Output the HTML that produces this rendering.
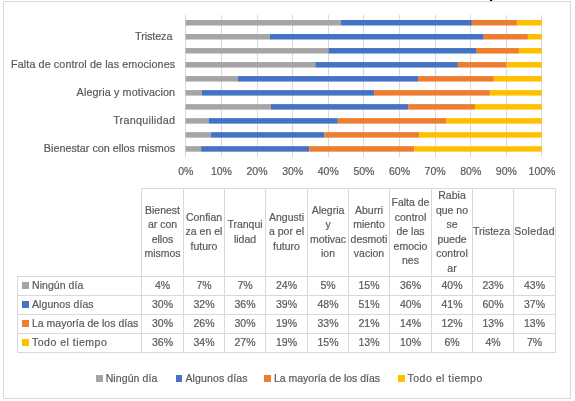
<!DOCTYPE html>
<html><head><meta charset="utf-8"><style>
html,body{margin:0;padding:0;background:#fff;}
#w{position:relative;width:575px;height:401px;overflow:hidden;background:#fff;font-family:"Liberation Sans",sans-serif;color:#595959;}
svg{position:absolute;left:0;top:0;}
#t{position:absolute;left:0;top:0;width:575px;height:401px;filter:grayscale(1);-webkit-text-stroke:0.2px #595959;}
.cl{position:absolute;right:399.8px;height:14px;line-height:14px;font-size:10.8px;white-space:nowrap;}
.al{position:absolute;top:164px;width:40px;text-align:center;height:14px;line-height:14px;font-size:10.5px;}
.th{position:absolute;top:187.6px;height:87.9px;display:flex;align-items:center;justify-content:center;text-align:center;font-size:10.5px;line-height:14.5px;}
.rn{position:absolute;left:17.5px;height:19px;line-height:19px;font-size:10.5px;white-space:nowrap;}
.sq{position:absolute;left:4.6px;top:6px;width:6.5px;height:6.5px;}
.rn{padding-left:14.5px;}
.td{position:absolute;height:19px;line-height:19px;text-align:center;font-size:10.5px;}
.lsq{position:absolute;top:375px;width:7px;height:7px;}
.lt{position:absolute;top:371px;height:14px;line-height:14px;font-size:10.5px;white-space:nowrap;}
</style></head><body><div id="w">
<svg width="575" height="401" viewBox="0 0 575 401">
<rect x="490" y="0" width="2.2" height="1.2" fill="#000"/>
<rect x="3.5" y="1.5" width="567" height="397" fill="none" stroke="#D9D9D9"/>
<line x1="185.50" y1="15" x2="185.50" y2="157" stroke="#D9D9D9" stroke-width="1"/>
<line x1="221.50" y1="15" x2="221.50" y2="157" stroke="#D9D9D9" stroke-width="1"/>
<line x1="257.50" y1="15" x2="257.50" y2="157" stroke="#D9D9D9" stroke-width="1"/>
<line x1="292.50" y1="15" x2="292.50" y2="157" stroke="#D9D9D9" stroke-width="1"/>
<line x1="328.50" y1="15" x2="328.50" y2="157" stroke="#D9D9D9" stroke-width="1"/>
<line x1="363.50" y1="15" x2="363.50" y2="157" stroke="#D9D9D9" stroke-width="1"/>
<line x1="399.50" y1="15" x2="399.50" y2="157" stroke="#D9D9D9" stroke-width="1"/>
<line x1="435.50" y1="15" x2="435.50" y2="157" stroke="#D9D9D9" stroke-width="1"/>
<line x1="470.50" y1="15" x2="470.50" y2="157" stroke="#D9D9D9" stroke-width="1"/>
<line x1="506.50" y1="15" x2="506.50" y2="157" stroke="#D9D9D9" stroke-width="1"/>
<line x1="541.50" y1="15" x2="541.50" y2="157" stroke="#D9D9D9" stroke-width="1"/>
<rect x="185.50" y="20.00" width="155.20" height="5.5" fill="#A5A5A5"/>
<rect x="340.70" y="20.00" width="131.20" height="5.5" fill="#4472C4"/>
<rect x="471.90" y="20.00" width="45.00" height="5.5" fill="#ED7D31"/>
<rect x="516.90" y="20.00" width="24.90" height="5.5" fill="#FFC000"/>
<rect x="185.50" y="34.02" width="84.20" height="5.5" fill="#A5A5A5"/>
<rect x="269.70" y="34.02" width="214.10" height="5.5" fill="#4472C4"/>
<rect x="483.80" y="34.02" width="44.10" height="5.5" fill="#ED7D31"/>
<rect x="527.90" y="34.02" width="13.90" height="5.5" fill="#FFC000"/>
<rect x="185.50" y="48.04" width="143.00" height="5.5" fill="#A5A5A5"/>
<rect x="328.50" y="48.04" width="147.50" height="5.5" fill="#4472C4"/>
<rect x="476.00" y="48.04" width="42.90" height="5.5" fill="#ED7D31"/>
<rect x="518.90" y="48.04" width="22.90" height="5.5" fill="#FFC000"/>
<rect x="185.50" y="62.06" width="129.80" height="5.5" fill="#A5A5A5"/>
<rect x="315.30" y="62.06" width="142.60" height="5.5" fill="#4472C4"/>
<rect x="457.90" y="62.06" width="48.80" height="5.5" fill="#ED7D31"/>
<rect x="506.70" y="62.06" width="35.10" height="5.5" fill="#FFC000"/>
<rect x="185.50" y="76.08" width="52.30" height="5.5" fill="#A5A5A5"/>
<rect x="237.80" y="76.08" width="180.30" height="5.5" fill="#4472C4"/>
<rect x="418.10" y="76.08" width="75.70" height="5.5" fill="#ED7D31"/>
<rect x="493.80" y="76.08" width="48.00" height="5.5" fill="#FFC000"/>
<rect x="185.50" y="90.10" width="16.50" height="5.5" fill="#A5A5A5"/>
<rect x="202.00" y="90.10" width="172.10" height="5.5" fill="#4472C4"/>
<rect x="374.10" y="90.10" width="115.80" height="5.5" fill="#ED7D31"/>
<rect x="489.90" y="90.10" width="51.90" height="5.5" fill="#FFC000"/>
<rect x="185.50" y="104.12" width="85.50" height="5.5" fill="#A5A5A5"/>
<rect x="271.00" y="104.12" width="137.10" height="5.5" fill="#4472C4"/>
<rect x="408.10" y="104.12" width="66.90" height="5.5" fill="#ED7D31"/>
<rect x="475.00" y="104.12" width="66.80" height="5.5" fill="#FFC000"/>
<rect x="185.50" y="118.14" width="23.40" height="5.5" fill="#A5A5A5"/>
<rect x="208.90" y="118.14" width="128.90" height="5.5" fill="#4472C4"/>
<rect x="337.80" y="118.14" width="108.30" height="5.5" fill="#ED7D31"/>
<rect x="446.10" y="118.14" width="95.70" height="5.5" fill="#FFC000"/>
<rect x="185.50" y="132.16" width="25.30" height="5.5" fill="#A5A5A5"/>
<rect x="210.80" y="132.16" width="113.60" height="5.5" fill="#4472C4"/>
<rect x="324.40" y="132.16" width="94.70" height="5.5" fill="#ED7D31"/>
<rect x="419.10" y="132.16" width="122.70" height="5.5" fill="#FFC000"/>
<rect x="185.50" y="146.18" width="15.60" height="5.5" fill="#A5A5A5"/>
<rect x="201.10" y="146.18" width="108.10" height="5.5" fill="#4472C4"/>
<rect x="309.20" y="146.18" width="105.00" height="5.5" fill="#ED7D31"/>
<rect x="414.20" y="146.18" width="127.60" height="5.5" fill="#FFC000"/>
<line x1="141.5" y1="188.5" x2="555.5" y2="188.5" stroke="#D9D9D9"/>
<line x1="17.5" y1="276.5" x2="555.5" y2="276.5" stroke="#D9D9D9"/>
<line x1="17.5" y1="295.5" x2="555.5" y2="295.5" stroke="#D9D9D9"/>
<line x1="17.5" y1="314.5" x2="555.5" y2="314.5" stroke="#D9D9D9"/>
<line x1="17.5" y1="333.5" x2="555.5" y2="333.5" stroke="#D9D9D9"/>
<line x1="17.5" y1="352.5" x2="555.5" y2="352.5" stroke="#D9D9D9"/>
<line x1="17.5" y1="276.5" x2="17.5" y2="352.5" stroke="#D9D9D9"/>
<line x1="141.5" y1="188.5" x2="141.5" y2="352.5" stroke="#D9D9D9"/>
<line x1="183.5" y1="188.5" x2="183.5" y2="352.5" stroke="#D9D9D9"/>
<line x1="224.5" y1="188.5" x2="224.5" y2="352.5" stroke="#D9D9D9"/>
<line x1="265.5" y1="188.5" x2="265.5" y2="352.5" stroke="#D9D9D9"/>
<line x1="307.5" y1="188.5" x2="307.5" y2="352.5" stroke="#D9D9D9"/>
<line x1="348.5" y1="188.5" x2="348.5" y2="352.5" stroke="#D9D9D9"/>
<line x1="389.5" y1="188.5" x2="389.5" y2="352.5" stroke="#D9D9D9"/>
<line x1="431.5" y1="188.5" x2="431.5" y2="352.5" stroke="#D9D9D9"/>
<line x1="472.5" y1="188.5" x2="472.5" y2="352.5" stroke="#D9D9D9"/>
<line x1="513.5" y1="188.5" x2="513.5" y2="352.5" stroke="#D9D9D9"/>
<line x1="555.5" y1="188.5" x2="555.5" y2="352.5" stroke="#D9D9D9"/>
<rect x="22" y="282" width="7" height="7" fill="#A5A5A5"/>
<rect x="22" y="301" width="7" height="7" fill="#4472C4"/>
<rect x="22" y="320" width="7" height="7" fill="#ED7D31"/>
<rect x="22" y="339" width="7" height="7" fill="#FFC000"/>
<rect x="96" y="375" width="7" height="7" fill="#A5A5A5"/>
<rect x="176" y="375" width="6" height="7" fill="#4472C4"/>
<rect x="264" y="375" width="7" height="7" fill="#ED7D31"/>
<rect x="398" y="375" width="7" height="7" fill="#FFC000"/>
</svg>
<div id="t">
<div class="cl" style="top:28.88px;letter-spacing:-0.1px">Tristeza&nbsp;</div>
<div class="cl" style="top:56.98px;letter-spacing:0.08px">Falta de control de las emociones</div>
<div class="cl" style="top:85.08px;letter-spacing:0.1px">Alegria y motivacion</div>
<div class="cl" style="top:113.18px;letter-spacing:0.25px">Tranquilidad</div>
<div class="cl" style="top:141.28px;letter-spacing:0px">Bienestar con ellos mismos</div>
<div class="al" style="left:165.80px">0%</div>
<div class="al" style="left:201.42px">10%</div>
<div class="al" style="left:237.04px">20%</div>
<div class="al" style="left:272.66px">30%</div>
<div class="al" style="left:308.28px">40%</div>
<div class="al" style="left:343.90px">50%</div>
<div class="al" style="left:379.52px">60%</div>
<div class="al" style="left:415.14px">70%</div>
<div class="al" style="left:450.76px">80%</div>
<div class="al" style="left:486.38px">90%</div>
<div class="al" style="left:522.00px">100%</div>
<div class="th" style="left:141.50px;width:42.00px">Bienest<br>ar con<br>ellos<br>mismos</div>
<div class="th" style="left:183.50px;width:41.00px">Confian<br>za en el<br>futuro</div>
<div class="th" style="left:224.50px;width:41.00px">Tranqui<br>lidad</div>
<div class="th" style="left:265.50px;width:42.00px">Angusti<br>a por el<br>futuro</div>
<div class="th" style="left:307.50px;width:41.00px">Alegria<br>y<br>motivac<br>ion</div>
<div class="th" style="left:348.50px;width:41.00px">Aburri<br>miento<br>desmoti<br>vacion</div>
<div class="th" style="left:389.50px;width:42.00px">Falta de<br>control<br>de las<br>emocio<br>nes</div>
<div class="th" style="left:431.50px;width:41.00px">Rabia<br>que no<br>se<br>puede<br>control<br>ar</div>
<div class="th" style="left:472.50px;width:41.00px">Tristeza&nbsp;</div>
<div class="th" style="left:513.50px;width:42.00px"><span style="letter-spacing:0.3px">Soledad</span></div>
<div class="rn" style="top:275.50px;letter-spacing:0.05px">Ningún día</div>
<div class="td" style="left:141.50px;top:275.50px;width:42.00px">4%</div>
<div class="td" style="left:183.50px;top:275.50px;width:41.00px">7%</div>
<div class="td" style="left:224.50px;top:275.50px;width:41.00px">7%</div>
<div class="td" style="left:265.50px;top:275.50px;width:42.00px">24%</div>
<div class="td" style="left:307.50px;top:275.50px;width:41.00px">5%</div>
<div class="td" style="left:348.50px;top:275.50px;width:41.00px">15%</div>
<div class="td" style="left:389.50px;top:275.50px;width:42.00px">36%</div>
<div class="td" style="left:431.50px;top:275.50px;width:41.00px">40%</div>
<div class="td" style="left:472.50px;top:275.50px;width:41.00px">23%</div>
<div class="td" style="left:513.50px;top:275.50px;width:42.00px">43%</div>
<div class="rn" style="top:294.50px;letter-spacing:0.08px">Algunos días</div>
<div class="td" style="left:141.50px;top:294.50px;width:42.00px">30%</div>
<div class="td" style="left:183.50px;top:294.50px;width:41.00px">32%</div>
<div class="td" style="left:224.50px;top:294.50px;width:41.00px">36%</div>
<div class="td" style="left:265.50px;top:294.50px;width:42.00px">39%</div>
<div class="td" style="left:307.50px;top:294.50px;width:41.00px">48%</div>
<div class="td" style="left:348.50px;top:294.50px;width:41.00px">51%</div>
<div class="td" style="left:389.50px;top:294.50px;width:42.00px">40%</div>
<div class="td" style="left:431.50px;top:294.50px;width:41.00px">41%</div>
<div class="td" style="left:472.50px;top:294.50px;width:41.00px">60%</div>
<div class="td" style="left:513.50px;top:294.50px;width:42.00px">37%</div>
<div class="rn" style="top:313.50px;letter-spacing:0px">La mayoría de los días</div>
<div class="td" style="left:141.50px;top:313.50px;width:42.00px">30%</div>
<div class="td" style="left:183.50px;top:313.50px;width:41.00px">26%</div>
<div class="td" style="left:224.50px;top:313.50px;width:41.00px">30%</div>
<div class="td" style="left:265.50px;top:313.50px;width:42.00px">19%</div>
<div class="td" style="left:307.50px;top:313.50px;width:41.00px">33%</div>
<div class="td" style="left:348.50px;top:313.50px;width:41.00px">21%</div>
<div class="td" style="left:389.50px;top:313.50px;width:42.00px">14%</div>
<div class="td" style="left:431.50px;top:313.50px;width:41.00px">12%</div>
<div class="td" style="left:472.50px;top:313.50px;width:41.00px">13%</div>
<div class="td" style="left:513.50px;top:313.50px;width:42.00px">13%</div>
<div class="rn" style="top:332.50px;letter-spacing:0.5px">Todo el tiempo</div>
<div class="td" style="left:141.50px;top:332.50px;width:42.00px">36%</div>
<div class="td" style="left:183.50px;top:332.50px;width:41.00px">34%</div>
<div class="td" style="left:224.50px;top:332.50px;width:41.00px">27%</div>
<div class="td" style="left:265.50px;top:332.50px;width:42.00px">19%</div>
<div class="td" style="left:307.50px;top:332.50px;width:41.00px">15%</div>
<div class="td" style="left:348.50px;top:332.50px;width:41.00px">13%</div>
<div class="td" style="left:389.50px;top:332.50px;width:42.00px">10%</div>
<div class="td" style="left:431.50px;top:332.50px;width:41.00px">6%</div>
<div class="td" style="left:472.50px;top:332.50px;width:41.00px">4%</div>
<div class="td" style="left:513.50px;top:332.50px;width:42.00px">7%</div>
<div class="lt" style="left:105.70px;letter-spacing:0.1px">Ningún día</div>
<div class="lt" style="left:185.50px;letter-spacing:0.12px">Algunos días</div>
<div class="lt" style="left:273.90px;letter-spacing:0px">La mayoría de los días</div>
<div class="lt" style="left:407.50px;letter-spacing:0.5px">Todo el tiempo</div>
</div>
</div></body></html>
